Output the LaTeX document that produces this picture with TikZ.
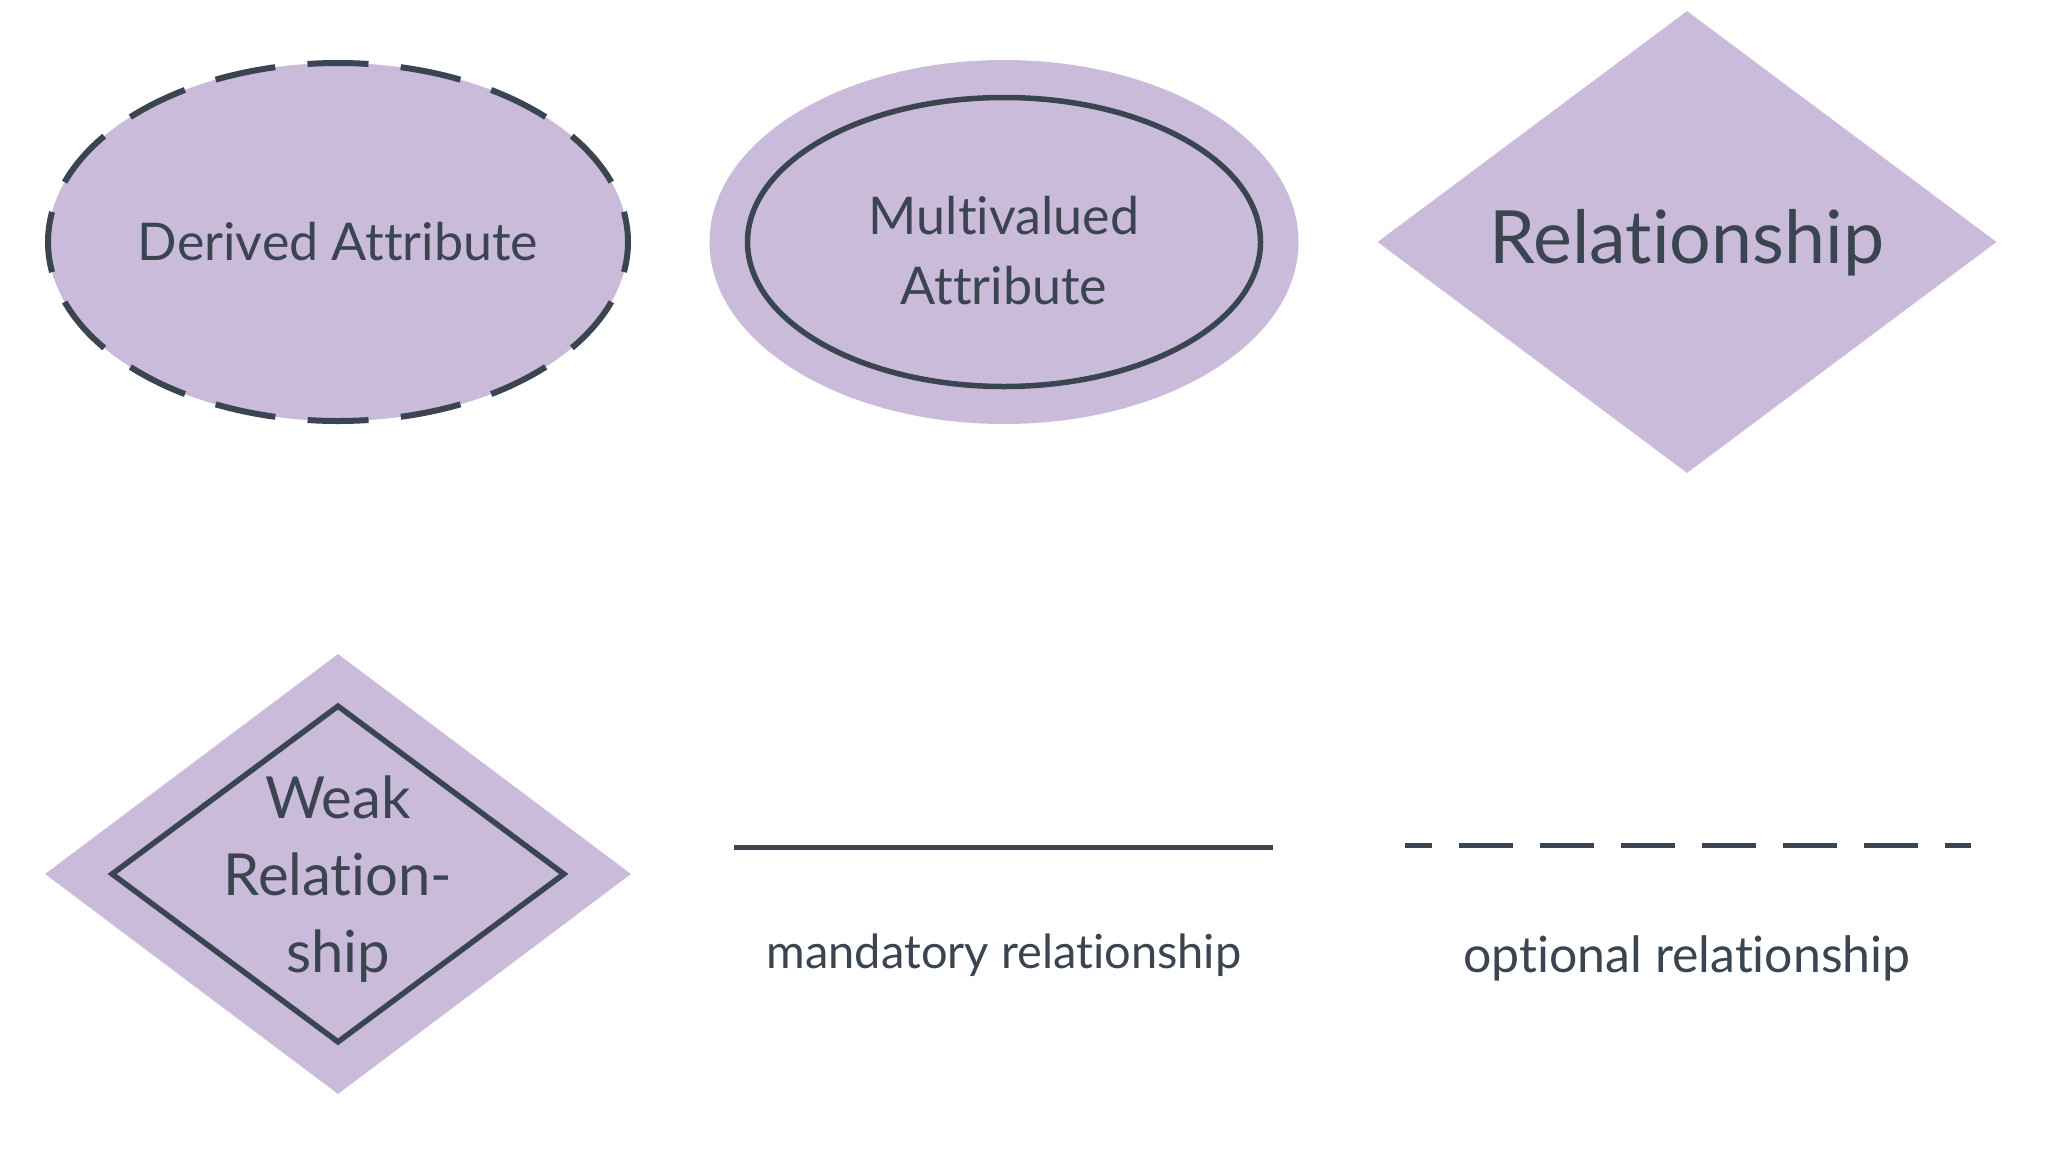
\documentclass[tikz,border=0pt]{standalone}
\usepackage{fontspec}
\setmainfont{Lato}[Ligatures={NoCommon}]
\usetikzlibrary{shapes.geometric}
\definecolor{lilac}{HTML}{CBBBDA}
\definecolor{ink}{HTML}{3B4451}
\tikzset{
  shapefill/.style={fill=lilac, draw=none, inner sep=0pt},
  outline/.style={draw=ink, line width=5.5bp, inner sep=0pt},
  lbl/.style={text=ink, align=center, inner sep=0pt},
  fs/.style={font=\fontsize{#1bp}{#1bp}\selectfont},
}
\begin{document}
\begin{tikzpicture}[x=1bp,y=-1bp]
\useasboundingbox (0,0) rectangle (2071,1155);
% Derived attribute
\node[ellipse, fill=lilac, draw=ink, line width=6bp, inner sep=0pt,
      minimum width=580bp, minimum height=358bp,
      dash pattern=on 61bp off 32.4bp, dash phase=30.5bp] (derived) at (338,242) {};
\node[lbl, fs=52] (derivedtxt) at (derived.center) {Derived Attribute};
% Multivalued attribute
\node[ellipse, shapefill, minimum width=589bp, minimum height=364bp] (multiout) at (1004,242) {};
\node[ellipse, outline, minimum width=513bp, minimum height=289bp] (multiin) at (1004,242) {};
\node[lbl, fs=52, text depth=0pt] (multitxt) at (1004,250) {Multivalued\\[18bp]Attribute};
% Relationship
\node[diamond, shapefill, minimum width=619bp, minimum height=462bp] (rel) at (1687,242) {};
\node[lbl, fs=73.5] (reltxt) at (1687,243) {Relationship};
% Weak relationship
\node[diamond, shapefill, minimum width=586bp, minimum height=440bp] (weakout) at (338,874) {};
\node[diamond, outline, minimum width=454bp, minimum height=338bp] (weakin) at (338,874) {};
\node[lbl, fs=58] (weaktxt) at (338,879) {Weak\\[19bp]Relation-\\[19bp]ship};
% mandatory
\coordinate (m1) at (734,847);
\coordinate (m2) at (1273,847);
\draw[ink, line width=5bp] (m1) -- (m2);
\node[lbl, fs=47] (mandtxt) at (1004,955) {mandatory relationship};
% optional
\coordinate (o1) at (1405,845);
\coordinate (o2) at (1971,845);
\draw[ink, line width=5bp, dash pattern=on 54bp off 27bp, dash phase=27bp] (o1) -- (o2);
\node[lbl, fs=50] (opttxt) at (1687,958) {optional relationship};
\end{tikzpicture}
\end{document}
